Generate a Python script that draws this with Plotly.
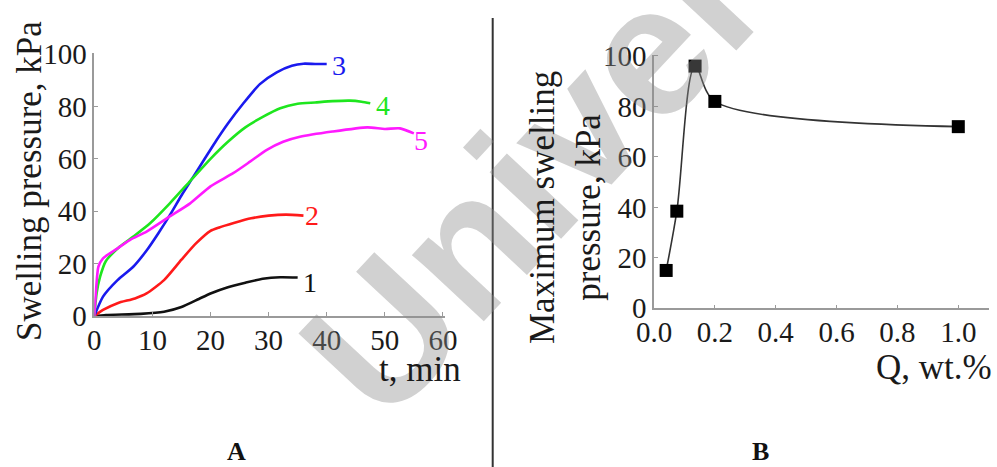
import plotly.graph_objects as go

# ---- Panel A data: swelling pressure (kPa) vs time (min) ----
t1 = [0, 2, 8, 12, 15, 18, 20, 23, 26, 29, 32, 35]
p1 = [0, 0.4, 0.8, 1.6, 3.4, 6.5, 8.6, 11, 12.7, 14.2, 14.8, 14.7]

t2 = [0, 1.5, 4, 7, 9, 12, 15, 17.5, 20, 21.5, 24, 27, 30, 33, 36]
p2 = [0, 2.3, 4.9, 6.7, 8.6, 13.7, 21.5, 27.7, 32.5, 33.8, 35.5, 37.3, 38.3, 38.7, 38.3]

t3 = [0, 1.5, 4, 6.7, 9, 11, 13, 15, 17, 19, 21, 23, 25.6, 28.5, 31.4, 34, 36, 38, 40]
p3 = [0, 7.4, 13.7, 18.8, 25, 31.5, 38.5, 46, 53, 60, 67, 73.5, 81, 88.5, 93, 95.5, 96.3, 96.2, 96.2]

t4 = [0, 0.4, 1, 2, 4.4, 6.7, 9.6, 13, 16.5, 20, 23, 26, 29, 32, 35, 38, 41, 44, 46, 47.5]
p4 = [0, 8.7, 15, 21, 26.5, 30.3, 35.4, 43, 51.5, 60, 66.5, 72, 76, 79.3, 81, 81.5, 82, 82.2, 81.8, 81.2]

t5 = [0, 0.3, 0.7, 1.5, 3.8, 6.1, 9, 13, 16.5, 20, 23.9, 26.8, 29.7, 32.5, 35.4, 41, 47, 50, 52.6, 55]
p5 = [0, 9.9, 18.8, 22, 25.5, 29, 32.2, 38, 43, 49.5, 54.5, 58.9, 63.4, 66.5, 68.4, 70.4, 72, 71.4, 71.6, 69.7]

curve_labels = ["1", "2", "3", "4", "5"]
curve_colors = ["#111111", "#ff1a1a", "#1a1aee", "#1ee61e", "#ff1aff"]

# ---- Panel B data: maximum swelling pressure vs Q ----
q_wt = [0.04, 0.075, 0.135, 0.2, 1.0]
p_max = [15, 38.5, 96, 82, 72]

x_ticks_a = [0, 10, 20, 30, 40, 50, 60]
y_ticks = [0, 20, 40, 60, 80, 100]
x_ticks_b = [0.0, 0.2, 0.4, 0.6, 0.8, 1.0]

W, H = 997, 467
SERIF = "Liberation Serif"
TXT = "#1a1a1a"
AX = "#9a9a9a"

fig = go.Figure()

series_a = [(t1, p1), (t2, p2), (t3, p3), (t4, p4), (t5, p5)]
for (tt, pp), col in zip(series_a, curve_colors):
    fig.add_trace(go.Scatter(x=tt, y=pp, mode="lines", xaxis="x", yaxis="y",
                             line=dict(color=col, width=2.6, shape="spline", smoothing=0.6),
                             cliponaxis=False, showlegend=False, hoverinfo="skip"))

fig.add_trace(go.Scatter(x=q_wt, y=p_max, mode="lines+markers", xaxis="x2", yaxis="y2",
                         line=dict(color="#333333", width=1.6, shape="spline", smoothing=0.9),
                         marker=dict(symbol="square", size=13, color="#000000"),
                         cliponaxis=False, showlegend=False, hoverinfo="skip"))

axis_common = dict(showline=True, linecolor=AX, linewidth=1.5, ticks="inside", ticklen=4,
                   tickcolor=AX, tickwidth=1.2, showgrid=False, zeroline=False,
                   tickfont=dict(family=SERIF, size=29, color=TXT), fixedrange=True)

def px_x(p):
    return p / W

def px_y(p):
    return 1 - p / H

fig.update_layout(
    width=W, height=H, margin=dict(l=0, r=0, t=0, b=0, autoexpand=False),
    paper_bgcolor="white", plot_bgcolor="white",
    xaxis=dict(domain=[px_x(94.3), px_x(94.3 + 60.3 * 5.81)], range=[0, 60.3],
               tickvals=x_ticks_a, anchor="y", ticklabelstandoff=-3, **axis_common),
    yaxis=dict(domain=[px_y(316), px_y(316 - 100.3 * 2.62)], range=[0, 100.3],
               tickvals=y_ticks, anchor="x", **axis_common),
    xaxis2=dict(domain=[px_x(654), px_x(654 + 1.1 * 304.3)], range=[0, 1.1],
                tickvals=x_ticks_b, tickformat=".1f", anchor="y2", ticklabelstandoff=-3,
                **axis_common),
    yaxis2=dict(domain=[px_y(308.3), px_y(308.3 - 100.5 * 2.523)], range=[0, 100.5],
                tickvals=y_ticks, anchor="x2", **axis_common),
)

annotations = []
# watermark (drawn first so other text sits on it)
annotations.append(dict(text="University", xref="paper", yref="paper",
                        x=px_x(642), y=px_y(58), xanchor="center", yanchor="middle",
                        showarrow=False, textangle=-47,
                        font=dict(family="Liberation Sans", size=185, color="rgba(140,140,140,0.40)",
                                  weight="bold")))

# curve labels at the end of each curve
label_shifts = [(3, -5), (0, 0), (3, -2), (4, -2), (-2, -7)]
for (tt, pp), lab, col, (dx, dy) in zip(series_a, curve_labels, curve_colors, label_shifts):
    annotations.append(dict(text=lab, x=tt[-1], y=pp[-1], xref="x", yref="y",
                            xanchor="left", yanchor="middle", showarrow=False,
                            xshift=dx, yshift=dy,
                            font=dict(family=SERIF, size=28, color=col)))

# axis titles
annotations += [
    dict(text="Swelling pressure, kPa", xref="paper", yref="paper", x=px_x(29), y=px_y(181),
         xanchor="center", yanchor="middle", textangle=-90, showarrow=False,
         font=dict(family=SERIF, size=35, color=TXT)),
    dict(text="t, min", xref="paper", yref="paper", x=px_x(463), y=px_y(369),
         xanchor="right", yanchor="middle", showarrow=False,
         font=dict(family=SERIF, size=35, color=TXT)),
    dict(text="Maximum swelling<br>pressure, kPa", xref="paper", yref="paper", x=px_x(565), y=px_y(208),
         xanchor="center", yanchor="middle", textangle=-90, showarrow=False,
         font=dict(family=SERIF, size=35, color=TXT)),
    dict(text="Q, wt.%", xref="paper", yref="paper", x=px_x(994), y=px_y(367),
         xanchor="right", yanchor="middle", showarrow=False,
         font=dict(family=SERIF, size=35, color=TXT)),
    dict(text="<b>A</b>", xref="paper", yref="paper", x=px_x(236), y=px_y(451),
         xanchor="center", yanchor="middle", showarrow=False,
         font=dict(family=SERIF, size=26, color="#111111")),
    dict(text="<b>B</b>", xref="paper", yref="paper", x=px_x(760), y=px_y(451),
         xanchor="center", yanchor="middle", showarrow=False,
         font=dict(family=SERIF, size=26, color="#111111")),
]
fig.update_layout(annotations=annotations)

fig.add_shape(type="line", xref="paper", yref="paper", x0=px_x(492.7), x1=px_x(492.7),
              y0=0, y1=px_y(18), line=dict(color="#333333", width=2))

fig.write_html("out.html")
